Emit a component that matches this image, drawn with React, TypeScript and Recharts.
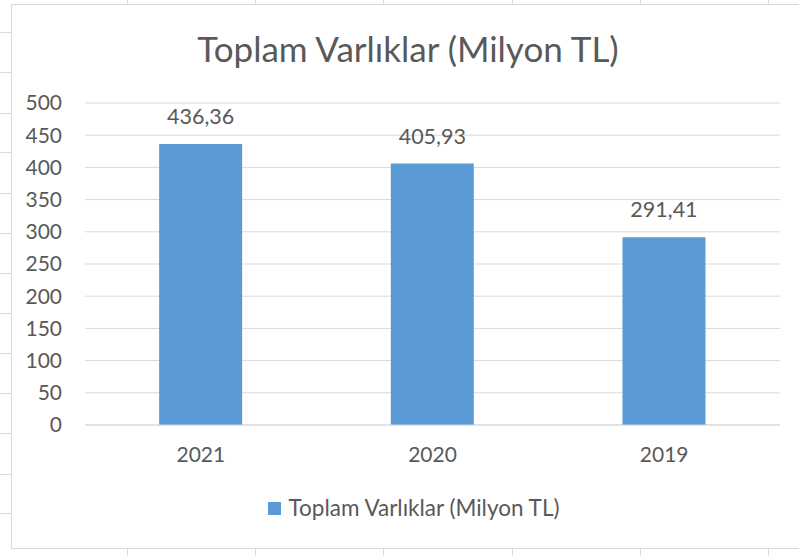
import { Bar, BarChart, CartesianGrid, LabelList, Legend, XAxis, YAxis } from "recharts";

const years = ["2021", "2020", "2019"];
const totalAssets = [436.36, 405.93, 291.41];
const yTicks = [0, 50, 100, 150, 200, 250, 300, 350, 400, 450, 500];

const data = years.map((year, i) => ({ year, value: totalAssets[i] }));

const FONT = "Lato, 'Open Sans', sans-serif";
const TEXT = "#595959";
const GRID = "#D9D9D9";
const BAR = "#5B9BD5";
const SHEET = "#DADADA";

const colLines = [127, 255, 383, 512, 640, 768];
const rowLines = [32, 72, 113, 152, 193, 233, 273, 313, 353, 393, 433, 474, 513];

const fmt = (v: unknown) => Number(v).toFixed(2).replace(".", ",");

function LegendBox({ payload }: any) {
  return (
    <div style={{ display: "flex", justifyContent: "center", alignItems: "center", height: 20 }}>
      {(payload || []).map((p: any) => (
        <div key={p.value} style={{ display: "flex", alignItems: "center" }}>
          <span style={{ width: 13, height: 13, background: p.color, marginRight: 8 }} />
          <span style={{ color: TEXT, fontSize: 22.5, fontFamily: FONT, lineHeight: "20px" }}>{p.value}</span>
        </div>
      ))}
    </div>
  );
}

export default function App() {
  return (
    <div
      style={{
        position: "fixed",
        left: 0,
        top: 0,
        width: 799,
        height: 556,
        background: "#fff",
        overflow: "hidden",
        fontFamily: FONT,
      }}
    >
      {/* spreadsheet cell lines around the chart */}
      {colLines.map((x) => (
        <div key={"t" + x} style={{ position: "absolute", left: x, top: 0, width: 1, height: 5, background: SHEET }} />
      ))}
      {colLines.map((x) => (
        <div key={"b" + x} style={{ position: "absolute", left: x, top: 549, width: 1, height: 7, background: SHEET }} />
      ))}
      {rowLines.map((y) => (
        <div key={"r" + y} style={{ position: "absolute", left: 0, top: y, width: 11, height: 1, background: SHEET }} />
      ))}
      <div
        style={{
          position: "absolute",
          left: 11,
          top: 4,
          width: 800,
          height: 545,
          borderLeft: `1px solid ${GRID}`,
          borderTop: `1px solid ${GRID}`,
          borderBottom: `1px solid ${GRID}`,
          boxSizing: "border-box",
        }}
      />
      <div
        style={{
          position: "absolute",
          left: 0,
          width: 816,
          top: 27,
          textAlign: "center",
          fontSize: 35,
          color: TEXT,
          whiteSpace: "nowrap",
        }}
      >
        Toplam Varlıklar (Milyon TL)
      </div>
      <div style={{ position: "absolute", left: 0, top: 0 }}>
        <BarChart
          width={799}
          height={556}
          data={data}
          margin={{ top: 103, right: 19, left: 25, bottom: 50 }}
          barCategoryGap="32%"
        >
          <CartesianGrid stroke={GRID} vertical={false} />
          <XAxis
            dataKey="year"
            tickLine={false}
            axisLine={{ stroke: GRID }}
            tickSize={0}
            tickMargin={22}
            height={61}
            tick={{ fill: TEXT, fontSize: 21, fontFamily: FONT }}
          />
          <YAxis
            domain={[0, 500]}
            ticks={yTicks}
            interval={0}
            width={60}
            tickLine={false}
            axisLine={false}
            tickSize={0}
            tickMargin={23}
            tick={{ fill: TEXT, fontSize: 21, fontFamily: FONT }}
          />
          <Legend
            verticalAlign="bottom"
            content={<LegendBox />}
            wrapperStyle={{ position: "absolute", top: 498, left: 14, width: 799, height: 20, bottom: "auto" }}
          />
          <Bar dataKey="value" name="Toplam Varlıklar (Milyon TL)" fill={BAR} isAnimationActive={false}>
            <LabelList
              dataKey="value"
              position="top"
              offset={20}
              formatter={fmt}
              style={{ fill: TEXT, fontSize: 21.5, fontFamily: FONT }}
            />
          </Bar>
        </BarChart>
      </div>
    </div>
  );
}
